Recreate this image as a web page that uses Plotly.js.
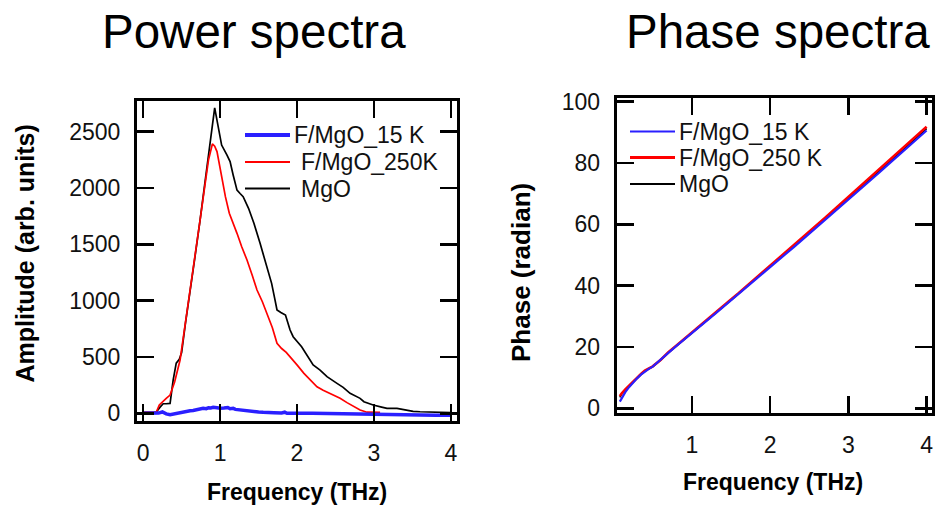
<!DOCTYPE html>
<html>
<head>
<meta charset="utf-8">
<script src="https://cdn.plot.ly/plotly-3.0.1.min.js"></script>
<style>html,body{margin:0;padding:0;background:#fff;}#chart{width:936px;height:508px;}</style>
</head>
<body>
<div id="chart"></div>
<script>
// ---------- Power spectra data ----------
const powFreqMgO = [0.0,0.1,0.17,0.22,0.26,0.3,0.35,0.39,0.43,0.47,0.5,0.55,0.61,0.67,0.74,0.8,0.83,0.88,0.93,0.97,1.02,1.09,1.13,1.17,1.22,1.26,1.3,1.37,1.44,1.52,1.61,1.67,1.71,1.74,1.79,1.85,1.91,1.95,2.06,2.14,2.21,2.3,2.39,2.52,2.6,2.69,2.82,2.87,2.99,3.1,3.17,3.3,3.4,3.51,3.6,3.73,3.85,4.0];
const powMgO     = [8,8,10,55,85,85,88,295,445,480,540,800,1065,1370,1715,2010,2174,2450,2710,2560,2380,2290,2233,2115,1980,1950,1922,1819,1686,1508,1300,1153,1020,917,895,872,739,680,591,500,429,384,325,266,230,177,133,103,74,55,44,44,30,18,14,12,8,6];

const powFreq250 = [0.0,0.1,0.17,0.21,0.26,0.3,0.35,0.41,0.48,0.55,0.61,0.67,0.74,0.8,0.85,0.9,0.93,0.96,1.02,1.07,1.12,1.17,1.22,1.28,1.35,1.42,1.48,1.55,1.61,1.68,1.74,1.8,1.86,1.91,2.0,2.09,2.17,2.26,2.34,2.43,2.52,2.56,2.65,2.74,2.82,2.91,3.0,3.08];
const pow250     = [8,8,10,74,110,133,162,280,473,800,1065,1370,1715,2010,2250,2390,2370,2322,2100,1920,1775,1690,1597,1480,1360,1220,1094,990,887,760,621,575,540,502,430,355,300,236,205,177,150,133,95,59,30,10,8,8];

const powFreq15  = [0.0,0.1,0.2,0.25,0.3,0.35,0.4,0.45,0.5,0.55,0.61,0.65,0.7,0.74,0.78,0.82,0.85,0.88,0.91,0.96,1.0,1.05,1.1,1.13,1.17,1.2,1.25,1.3,1.35,1.4,1.45,1.5,1.56,1.63,1.7,1.8,1.84,1.87,2.0,2.2,2.4,2.6,2.65,2.8,3.0,3.2,3.4,3.6,3.8,4.0];
const pow15      = [0,0,2,12,-5,-12,-4,2,8,18,23,25,33,38,44,41,50,48,53,50,45,48,52,41,44,35,30,28,20,22,14,12,9,11,6,4,10,0,2,0,-2,-4,-12,-12,-12,-13,-14,-15,-16,-18];

// ---------- Phase spectra data ----------
const phaseFreq  = [0.08,0.1,0.15,0.2,0.25,0.3,0.35,0.4,0.45,0.5,0.6,0.7,0.8,0.9,1.0,1.1,1.2,1.3,1.4,1.5,1.6,1.7,1.8,1.9,2.0,2.1,2.2,2.3,2.4,2.5,2.6,2.7,2.8,2.9,3.0,3.1,3.2,3.3,3.4,3.5,3.6,3.7,3.8,3.9,4.0];
const phase250   = [4.0,4.8,6.2,7.5,8.8,10.0,11.2,12.3,13.0,13.7,15.8,18.3,20.4,22.6,24.7,26.9,29.0,31.2,33.3,35.5,37.6,39.8,42.0,44.2,46.4,48.6,50.8,53.1,55.3,57.6,59.8,62.1,64.4,66.7,69.0,71.3,73.5,75.8,78.1,80.3,82.6,84.9,87.2,89.5,91.8];
const phase15    = [2.2,3.2,5.3,7.0,8.5,9.8,11.0,12.1,12.9,13.6,15.7,18.1,20.3,22.5,24.6,26.7,28.8,30.9,33.1,35.2,37.4,39.5,41.7,43.9,46.0,48.2,50.4,52.5,54.7,56.9,59.1,61.3,63.5,65.8,68.0,70.3,72.5,74.8,77.0,79.3,81.5,83.8,86.0,88.3,90.6];
const phaseMgO   = [3.6,4.5,6.0,7.3,8.7,9.9,11.1,12.2,13.0,13.6,15.7,18.2,20.3,22.5,24.6,26.8,28.9,31.0,33.2,35.3,37.5,39.6,41.8,44.0,46.2,48.4,50.6,52.8,55.0,57.2,59.4,61.7,63.9,66.2,68.5,70.8,73.0,75.3,77.5,79.8,82.0,84.3,86.6,88.9,91.2];

// ---------- Labels ----------
const seriesNamesPower = ['F/MgO_15 K', 'F/MgO_250K', 'MgO'];
const seriesNamesPhase = ['F/MgO_15 K', 'F/MgO_250 K', 'MgO'];
const seriesColors = ['#2a1fff', '#ff0000', '#000000'];
const powerTicks = [0, 500, 1000, 1500, 2000, 2500];
const phaseTicks = [0, 20, 40, 60, 80, 100];

const FONT = 'Liberation Sans, Arial, sans-serif';
const W = 936, H = 508;
const px = v => v / W;
const py = v => 1 - v / H;

const traces = [
  {x: powFreqMgO, y: powMgO, xaxis:'x', yaxis:'y', mode:'lines', line:{color:seriesColors[2], width:1.7}, name: seriesNamesPower[2]},
  {x: powFreq250, y: pow250, xaxis:'x', yaxis:'y', mode:'lines', line:{color:seriesColors[1], width:1.7}, name: seriesNamesPower[1]},
  {x: powFreq15,  y: pow15,  xaxis:'x', yaxis:'y', mode:'lines', line:{color:seriesColors[0], width:3.5}, name: seriesNamesPower[0]},
  {x: phaseFreq, y: phaseMgO, xaxis:'x2', yaxis:'y2', mode:'lines', line:{color:seriesColors[2], width:1.6}, name: seriesNamesPhase[2]},
  {x: phaseFreq, y: phase250, xaxis:'x2', yaxis:'y2', mode:'lines', line:{color:seriesColors[1], width:2.6}, name: seriesNamesPhase[1]},
  {x: phaseFreq, y: phase15,  xaxis:'x2', yaxis:'y2', mode:'lines', line:{color:seriesColors[0], width:2.2}, name: seriesNamesPhase[0]}
];

const axisCommon = {
  ticks:'inside', ticklen:17, tickwidth:2.6, tickcolor:'#000',
  showline:true, linewidth:3, linecolor:'#000', mirror:'ticks',
  showgrid:false, zeroline:false,
  tickfont:{family:FONT, size:23, color:'#111'},
  ticklabelstandoff: 9
};

// manual legends (decoration only)
const shapes = [];
const annotations = [];
function addLegend(names, x0, x1, xtext, rows, widths) {
  names.forEach((n, i) => {
    shapes.push({type:'line', xref:'paper', yref:'paper', x0:px(x0), x1:px(x1), y0:py(rows[i]), y1:py(rows[i]),
      line:{color:seriesColors[i], width:widths[i]}});
    annotations.push({text:n, xref:'paper', yref:'paper', x:px(xtext[i]), y:py(rows[i]), xanchor:'left', yanchor:'middle',
      showarrow:false, font:{family:FONT, size:23, color:'#111'}});
  });
}
addLegend(seriesNamesPower, 245, 290, [292, 299, 299], [135, 162, 188.5], [4, 2, 2]);
addLegend(seriesNamesPhase, 630, 675, [677, 677, 677], [131.5, 157.5, 184], [2.2, 3, 2]);

function txt(t, x, y, size, bold, angle) {
  annotations.push({text: bold ? '<b>'+t+'</b>' : t, xref:'paper', yref:'paper', x:px(x), y:py(y),
    xanchor:'center', yanchor:'middle', showarrow:false, textangle: angle||0,
    font:{family:FONT, size:size, color:'#000'}});
}
txt('Power spectra', 254, 31, 47.5, false);
txt('Phase spectra', 778, 31, 47.5, false);
txt('Frequency (THz)', 296.5, 492, 23, true);
txt('Frequency (THz)', 773.3, 482, 23, true);
txt('Amplitude (arb. units)', 24, 253.5, 25, true, -90);
txt('Phase (radian)', 521, 273, 26, true, -90);

const layout = {
  width: W, height: H,
  margin:{l:0, r:0, t:0, b:0},
  paper_bgcolor:'#fff', plot_bgcolor:'#fff',
  showlegend:false,
  xaxis: Object.assign({}, axisCommon, {domain:[px(137), px(457)], range:[-0.08, 4.08], anchor:'y', tick0:0, dtick:1}),
  yaxis: Object.assign({}, axisCommon, {domain:[py(421), py(101)], range:[-68, 2771], anchor:'x', tickvals: powerTicks, ticktext: powerTicks.map(String)}),
  xaxis2: Object.assign({}, axisCommon, {domain:[px(616.7), px(931.7)], range:[0.04, 4.065], anchor:'y2', tick0:0, dtick:1}),
  yaxis2: Object.assign({}, axisCommon, {domain:[py(413.3), py(98.3)], range:[-1.6, 101.1], anchor:'x2', tickvals: phaseTicks, ticktext: phaseTicks.map(String)}),
  shapes: shapes,
  annotations: annotations
};

Plotly.newPlot('chart', traces, layout, {staticPlot:true, displayModeBar:false});
</script>
</body>
</html>
